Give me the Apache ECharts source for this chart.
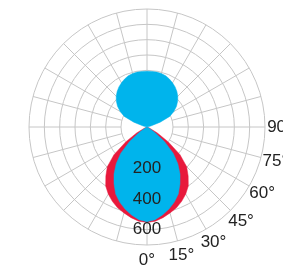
<!DOCTYPE html>
<html>
<head>
  <meta charset="utf-8" />
  <script src="https://cdn.jsdelivr.net/npm/echarts@6/dist/echarts.min.js"></script>
  <style>
    * { margin: 0; padding: 0; }
    #chart { width: 283px; height: 269px; overflow: hidden; }
  </style>
</head>
<body>
  <div id="chart"></div>
  <script>
    // angles measured from 0° (down), one half of the symmetric curve
    const angles = [0, 5, 10, 15, 20, 25, 30, 35, 40, 45, 50, 55, 60, 65, 70, 75, 80, 85, 90,
      95, 100, 105, 110, 115, 120, 125, 130, 135, 140, 145, 150, 155, 160, 165, 170, 175, 180];
    const blueValues = [642, 631, 605, 576, 542, 502, 447, 390, 325, 251, 156, 68, 20, 0, 0, 0, 0, 0, 0,
      0, 0, 27, 95, 170, 210, 244, 271, 295, 315, 332, 346, 359, 370, 375, 378, 378, 378];
    const redValues = [647, 641, 624, 603, 583, 556, 525, 488, 434, 380, 292, 176, 81, 20, 0, 0, 0, 0, 0,
      0, 0, 0, 0, 0, 0, 0, 0, 0, 0, 0, 0, 0, 0, 0, 0, 0, 0];
    const ringLabels = [200, 400, 600];
    const angleLabels = [0, 15, 30, 45, 60, 75, 90];

    const fullCurve = (vals) => {
      const out = angles.map((a, i) => [vals[i], a]);
      for (let i = angles.length - 2; i >= 0; i--) out.push([vals[i], 360 - angles[i]]);
      return out;
    };

    const font = '"Liberation Sans", Arial, sans-serif';
    const textColor = '#222';
    const center = [147, 127];
    const hidden = { axisLine: { show: false }, axisTick: { show: false }, axisLabel: { show: false }, splitLine: { show: false } };
    const turn = { type: 'value', min: 0, max: 360, startAngle: 270, clockwise: false };

    const chart = echarts.init(document.getElementById('chart'), null, { renderer: 'canvas' });

    chart.setOption({
      animation: false,
      polar: [
        { center: center, radius: [26, 118] },
        { center: center, radius: [0, 118] },
        { center: center, radius: [26, 118] },
        { center: center, radius: [0, 133] }
      ],
      radiusAxis: [
        {
          polarIndex: 0, type: 'value', min: 100, max: 700, interval: 100, z: 0,
          axisLine: { show: false }, axisTick: { show: false }, axisLabel: { show: false },
          splitLine: { show: true, lineStyle: { color: '#c6c6c6', width: 1 } }
        },
        Object.assign({ polarIndex: 1, type: 'value', min: 0, max: 800 }, hidden),
        {
          polarIndex: 2, type: 'value', min: 100, max: 700, interval: 100, z: 10,
          axisLine: { show: false }, axisTick: { show: false }, splitLine: { show: false },
          axisLabel: {
            show: true, margin: 0, align: 'center', verticalAlign: 'middle',
            fontFamily: font, fontSize: 17, color: textColor,
            formatter: (v) => ringLabels.includes(v) ? String(v) : ''
          }
        },
        Object.assign({ polarIndex: 3, type: 'value', min: 0, max: 1 }, hidden)
      ],
      angleAxis: [
        Object.assign({}, turn, {
          polarIndex: 0, interval: 15, z: 0,
          axisLine: { show: false }, axisTick: { show: false }, axisLabel: { show: false },
          splitLine: { show: true, lineStyle: { color: '#c6c6c6', width: 1 } }
        }),
        Object.assign({ polarIndex: 1 }, turn, hidden),
        Object.assign({ polarIndex: 2 }, turn, hidden),
        Object.assign({ polarIndex: 3 }, turn, hidden)
      ],
      series: [
        {
          type: 'line', coordinateSystem: 'polar', polarIndex: 1, symbol: 'none', z: 2,
          data: fullCurve(redValues),
          lineStyle: { color: '#e8193c', width: 0.5 },
          areaStyle: { color: '#e8193c', opacity: 1 }
        },
        {
          type: 'line', coordinateSystem: 'polar', polarIndex: 1, symbol: 'none', z: 3,
          data: fullCurve(blueValues),
          lineStyle: { color: '#00b4ec', width: 0.5 },
          areaStyle: { color: '#00b4ec', opacity: 1 }
        },
        {
          type: 'scatter', coordinateSystem: 'polar', polarIndex: 3, z: 10, clip: false,
          symbolSize: 1, itemStyle: { color: 'transparent', opacity: 1 },
          data: angleLabels.map((a) => [1, a]),
          label: {
            show: true, position: 'inside', color: textColor, textBorderWidth: 0,
            fontFamily: font, fontSize: 17,
            formatter: (p) => p.data[1] + '°'
          }
        }
      ]
    });
  </script>
</body>
</html>
